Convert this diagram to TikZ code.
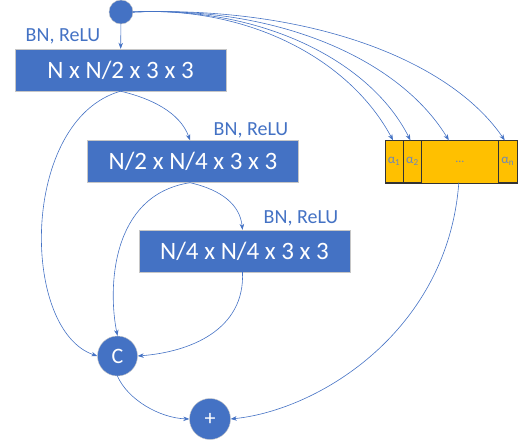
\documentclass[tikz,border=0pt]{standalone}
\usepackage{fontspec}
\setmainfont{Carlito}
\usetikzlibrary{arrows.meta,positioning}
\definecolor{accblue}{HTML}{4472C4}
\definecolor{accgold}{HTML}{FFC000}
\definecolor{alphagray}{HTML}{6A86BC}
\begin{document}
\begin{tikzpicture}[
    x=1pt, y=-1pt,
    layer/.style={draw=gray!45, fill=accblue, text=white, inner sep=0pt,
                  minimum width=211pt, minimum height=42pt, font=\fontsize{25}{28}\selectfont},
    dot/.style={circle, draw=gray!45, fill=accblue, text=white, inner sep=0pt,
                minimum size=#1, font=\fontsize{22}{24}\selectfont},
    act/.style={text=accblue, font=\fontsize{20}{22}\selectfont, inner sep=0pt},
    cell/.style={draw=black!80, fill=accgold, text=alphagray, inner sep=0pt,
                 minimum height=42pt, font=\fontsize{13}{14}\selectfont},
    link/.style={accblue, line width=0.6pt, -{Stealth[length=6pt,width=4.5pt]}},
  ]
    \useasboundingbox (0,0) rectangle (525,444);

    % input and the three convolutions
    \node[dot=24pt] (in) at (121,12) {};
    \node[layer] (conv1) at (120.5,70) {N x N/2 x 3 x 3};
    \node[layer] (conv2) at (193,161.5) {N/2 x N/4 x 3 x 3};
    \node[layer] (conv3) at (244.5,251) {N/4 x N/4 x 3 x 3};
    \node[act] (bn1) at (63,36) {BN, ReLU};
    \node[act] (bn2) at (251,130) {BN, ReLU};
    \node[act] (bn3) at (301,218) {BN, ReLU};

    % attention weights
    \node[cell, minimum width=18pt] (a1) at (394,161.5) {α\textsubscript{1}};
    \node[cell, minimum width=18pt, right=0pt of a1] (a2) {α\textsubscript{2}};
    \node[cell, draw=none, minimum width=76pt, right=0pt of a2] (adots) {\fontsize{12}{13}\selectfont ...};
    \node[cell, minimum width=19pt, right=0pt of adots] (an) {α\textsubscript{n}};
    \draw[black!80] (a1.north west) rectangle (an.south east);

    % concatenation and sum
    \node[dot=40pt] (cat) at (117.5,356) {C};
    \node[dot=41pt] (sum) at (210,419) {+};

    % connectors
    \draw[link] (in) -- (conv1);
    \draw[link] (conv1.south) .. controls (20,120) and (20,330) .. (cat.west);
    \draw[link] (conv1.south) .. controls (150,98) and (180,112) .. ([xshift=-3pt]conv2.north);
    \draw[link] ([xshift=-3pt]conv2.south) .. controls (110,195) and (108,290) .. (cat.north);
    \draw[link] ([xshift=-3pt]conv2.south) .. controls (222,190) and (240,205) .. ([xshift=-2pt]conv3.north);
    \draw[link] ([xshift=-2pt]conv3.south) .. controls (245,330) and (190,352) .. (cat.east);
    \draw[link] (cat.south) .. controls (128,400) and (160,418) .. (sum.west);
    \draw[link] ([xshift=-1pt]adots.south) .. controls (448,330) and (320,410) .. (sum.east);
    \draw[link] (in.east) .. controls (250,6) and (350,60) .. ([xshift=-1pt]a1.north);
    \draw[link] (in.east) .. controls (260,6) and (370,60) .. ([xshift=-2pt]a2.north);
    \draw[link] (in.east) .. controls (280,6) and (400,60) .. ([xshift=-11pt]adots.north);
    \draw[link] (in.east) .. controls (310,6) and (450,60) .. ([xshift=-3pt]an.north);
\end{tikzpicture}
\end{document}
